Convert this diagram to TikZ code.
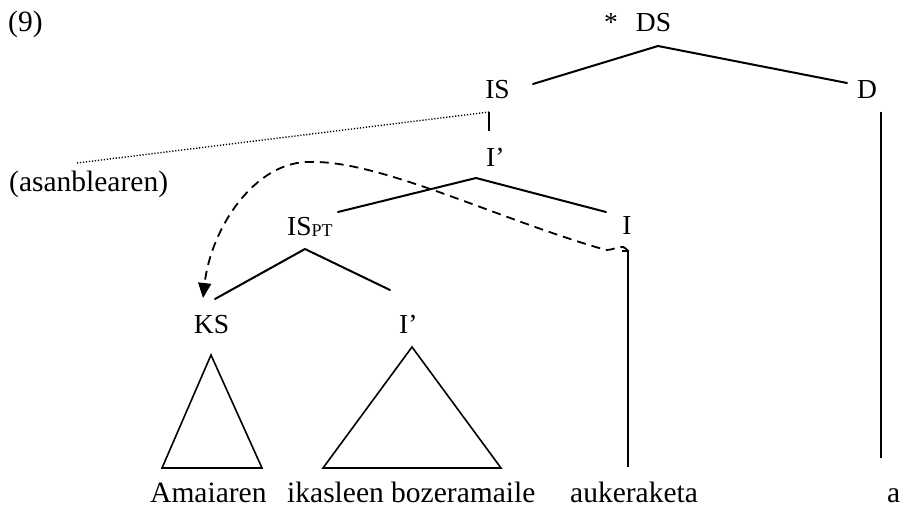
\documentclass[tikz,border=0pt]{standalone}
\usepackage{fontspec}
\setmainfont{Liberation Serif}
\usetikzlibrary{arrows.meta}
\begin{document}
\begin{tikzpicture}[x=1pt,y=-1pt,
  lbl/.style={inner sep=0pt, anchor=base, font=\fontsize{27.5}{30}\selectfont},
  word/.style={inner sep=0pt, anchor=base west, font=\fontsize{29.5}{33}\selectfont},
  branch/.style={line width=2pt, line cap=round},
  tri/.style={line width=1.6pt, line join=miter},
  vline/.style={line width=1.6pt},
  thickv/.style={line width=2pt},
  mov/.style={line width=1.8pt, dash pattern=on 9pt off 6pt, -{Triangle[length=15pt,width=13pt]}},
  dots/.style={line width=1.4pt, dash pattern=on 1.2pt off 1.8pt}]
\useasboundingbox (0,0) rectangle (900,508);

% labels
\node[word] (ex) at (8,32) {(9)};
\node[lbl] (star) at (611,32) {*};
\node[lbl] (ds) at (653.5,32) {DS};
\node[lbl] (is) at (497.5,99) {IS};
\node[lbl] (d) at (867,99) {D};
\node[lbl, anchor=base west] (ibar) at (486,167) {I’};
\node[word] (asan) at (9,191) {(asanblearen)};
\node[lbl, anchor=base west] (ispt) at (287,235) {IS\raisebox{-1pt}{\fontsize{18}{17}\selectfont PT}};
\node[lbl] (i) at (627,234) {I};
\node[lbl] (ks) at (211.5,333) {KS};
\node[lbl, anchor=base west] (ibar2) at (399,333) {I’};
\node[word] (w1) at (150,502) {Amaiaren};
\node[word] (w2) at (287,502) {ikasleen bozeramaile};
\node[word] (w3) at (570,502) {aukeraketa};
\node[word] (w4) at (887,502) {a};

% branch points
\coordinate (ds-b) at (658,46);
\coordinate (is-t) at (533,84);
\coordinate (d-t) at (847,83);
\coordinate (is-b) at (489,112);
\coordinate (is-b2) at (489,131);
\coordinate (asan-r) at (77,163);
\coordinate (ibar-b) at (476,178);
\coordinate (ispt-t) at (338,212);
\coordinate (i-t) at (606,212);
\coordinate (ispt-b) at (305,249);
\coordinate (ks-t) at (215,299);
\coordinate (ibar2-t) at (390,290);
\coordinate (i-b) at (628,251);
\coordinate (i-tick) at (622,251);
\coordinate (w3-t) at (628,467);
\coordinate (d-b) at (881,112);
\coordinate (w4-t) at (881,458);
\coordinate (ks-a) at (211,355);
\coordinate (ks-l) at (162,468);
\coordinate (ks-r) at (262,468);
\coordinate (ib-a) at (412,347);
\coordinate (ib-l) at (323,468);
\coordinate (ib-r) at (501,468);
\coordinate (arr) at (203,298);

% tree
\draw[branch] (is-t) -- (ds-b) -- (d-t);
\draw[vline] (is-b) -- (is-b2);
\draw[dots] (asan-r) -- (is-b);
\draw[branch] (ispt-t) -- (ibar-b) -- (i-t);
\draw[branch] (ks-t) -- (ispt-b) -- (ibar2-t);
\draw[vline] (i-tick) -- (i-b) -- (w3-t);
\draw[thickv] (d-b) -- (w4-t);
\draw[tri] (ks-a) -- (ks-l) -- (ks-r) -- cycle;
\draw[tri] (ib-a) -- (ib-l) -- (ib-r) -- cycle;

% movement arrow
\draw[mov] (i-b) .. controls (621,242) and (617,250) .. (606,250)
  .. controls (500,220) and (380,160) .. (310,162)
  .. controls (255,161) and (211,228) .. (arr);
\end{tikzpicture}
\end{document}
